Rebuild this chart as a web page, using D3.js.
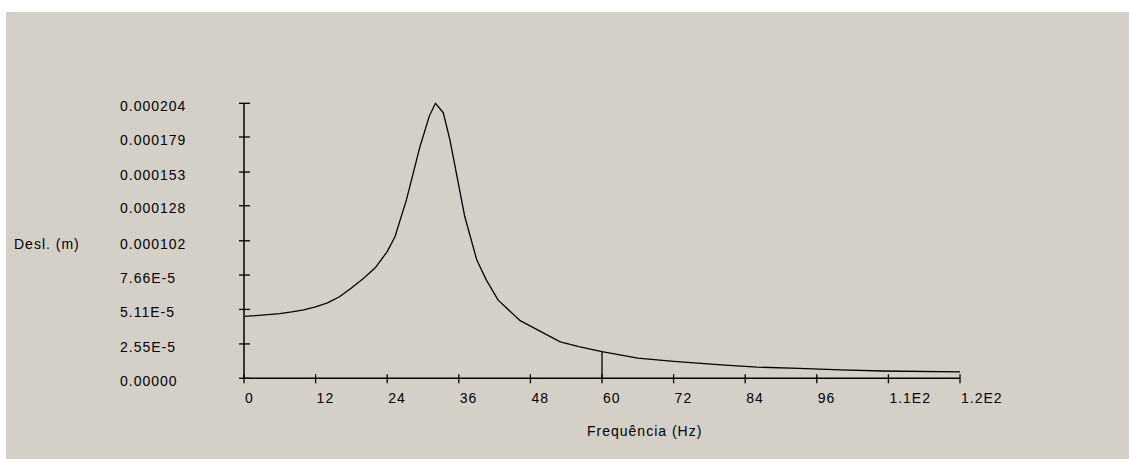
<!DOCTYPE html>
<html>
<head>
<meta charset="utf-8">
<script src="https://cdn.jsdelivr.net/npm/d3@7"></script>
<style>
  html, body { margin: 0; padding: 0; background: #ffffff; }
  svg { display: block; }
  text { font-family: "Liberation Sans", Arial, sans-serif; font-size: 14px; letter-spacing: 1px; fill: #000; }
</style>
</head>
<body>
<svg id="chart" width="1129" height="459"></svg>
<script>
// Frequency response: displacement amplitude against excitation frequency
const freqHz = [0, 2, 4, 6, 8, 10, 12, 14, 16, 18, 20, 22, 24, 25.3, 27.2, 29.5, 31.1, 32.1,
  33.4, 34.5, 35.6, 37, 39, 40.6, 42.6, 46.2, 49.6, 53, 56.3, 60, 66, 72, 80, 86, 93, 100, 107, 120];
const displacement = [4.60e-5, 4.65e-5, 4.72e-5, 4.80e-5, 4.92e-5, 5.08e-5, 5.30e-5, 5.60e-5,
  6.05e-5, 6.70e-5, 7.40e-5, 8.20e-5, 9.40e-5, 1.05e-4, 1.32e-4, 1.72e-4, 1.95e-4, 2.04e-4,
  1.97e-4, 1.77e-4, 1.52e-4, 1.20e-4, 8.8e-5, 7.3e-5, 5.8e-5, 4.3e-5, 3.5e-5, 2.7e-5, 2.33e-5,
  1.98e-5, 1.5e-5, 1.25e-5, 9.9e-6, 8.3e-6, 7.3e-6, 6.2e-6, 5.4e-6, 4.8e-6];

// Axis ticks and their printed labels
const xTickValues = [0, 12, 24, 36, 48, 60, 72, 84, 96, 108, 120];
const xTickLabels = ["0", "12", "24", "36", "48", "60", "72", "84", "96", "1.1E2", "1.2E2"];
const yTickValues = [0, 2.55e-5, 5.11e-5, 7.66e-5, 1.02e-4, 1.28e-4, 1.53e-4, 1.79e-4, 2.04e-4];
const yTickLabels = ["0.00000", "2.55E-5", "5.11E-5", "7.66E-5", "0.000102", "0.000128",
  "0.000153", "0.000179", "0.000204"];

// Cursor frequency marked with a vertical line
const cursorFreq = 60;

const svg = d3.select("#chart");

// Window panel
svg.append("rect")
  .attr("x", 6).attr("y", 12)
  .attr("width", 1129 - 6).attr("height", 459 - 12)
  .attr("fill", "#d4d0c8");

const x = d3.scaleLinear().domain([0, 120]).range([244, 960]);
const y = d3.scaleLinear().domain([0, 2.04e-4]).range([378.3, 103.3]);

const axisColor = "#000";

// X axis
const xAxis = svg.append("g").attr("transform", `translate(0,${y(0)})`);
xAxis.append("line")
  .attr("x1", x(0)).attr("x2", x(120))
  .attr("stroke", axisColor).attr("stroke-width", 1.5);
xAxis.selectAll("line.tick").data(xTickValues).join("line")
  .attr("class", "tick")
  .attr("x1", d => x(d)).attr("x2", d => x(d))
  .attr("y1", -4).attr("y2", 5)
  .attr("stroke", axisColor).attr("stroke-width", 1.3);
xAxis.selectAll("text").data(xTickValues).join("text")
  .attr("x", d => x(d) + 1)
  .attr("y", 25)
  .attr("text-anchor", "start")
  .text((d, i) => xTickLabels[i]);

// Y axis
const yAxis = svg.append("g").attr("transform", `translate(${x(0)},0)`);
yAxis.append("line")
  .attr("y1", y(0)).attr("y2", y(2.04e-4))
  .attr("stroke", axisColor).attr("stroke-width", 1.5);
yAxis.selectAll("line.tick").data(yTickValues).join("line")
  .attr("class", "tick")
  .attr("x1", -5).attr("x2", 6)
  .attr("y1", d => y(d)).attr("y2", d => y(d))
  .attr("stroke", axisColor).attr("stroke-width", 1.3);
svg.append("g").selectAll("text").data(yTickValues).join("text")
  .attr("x", 120)
  .attr("y", d => y(d) + 7.7)
  .attr("text-anchor", "start")
  .text((d, i) => yTickLabels[i]);

// Axis titles
svg.append("text").attr("x", 14).attr("y", y(1.02e-4) + 7.7).text("Desl. (m)");
svg.append("text").attr("x", 587).attr("y", 436).text("Frequência (Hz)");

// Response curve, drawn as a polyline through the sampled frequencies
const points = freqHz.map((f, i) => [f, displacement[i]]);
svg.append("path")
  .datum(points)
  .attr("fill", "none")
  .attr("stroke", "#000")
  .attr("stroke-width", 1.3)
  .attr("stroke-linejoin", "round")
  .attr("d", d3.line().x(d => x(d[0])).y(d => y(d[1])));

// Cursor line from the axis up to the curve
const cursorValue = d3.scaleLinear().domain(freqHz).range(displacement)(cursorFreq);
svg.append("line")
  .attr("x1", x(cursorFreq)).attr("x2", x(cursorFreq))
  .attr("y1", y(0)).attr("y2", y(cursorValue))
  .attr("stroke", "#000").attr("stroke-width", 1.3);
</script>
</body>
</html>
